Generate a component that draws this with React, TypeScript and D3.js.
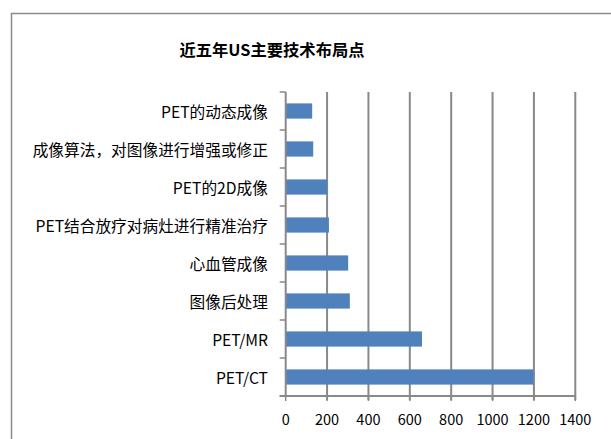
import { useMemo } from "react";
import { scaleBand, scaleLinear } from "d3";

const totalWidth = 611;
const totalHeight = 439;
const plotLeft = 285.7;
const plotRight = 575.3;
const plotTop = 92;
const plotBottom = 396;

const titleText = "近五年US主要技术布局点";
const categories = [
  "PET的动态成像",
  "成像算法，对图像进行增强或修正",
  "PET的2D成像",
  "PET结合放疗对病灶进行精准治疗",
  "心血管成像",
  "图像后处理",
  "PET/MR",
  "PET/CT",
];
const values = [128, 133, 201, 209, 302, 310, 659, 1198];
const xTicks = [0, 200, 400, 600, 800, 1000, 1200, 1400];

const fontFamily = '"Noto Sans CJK SC", "Noto Sans", sans-serif';
const gridColor = "#898989";
const barColor = "#4F81BD";

export default function App() {
  const { xScale, yScale } = useMemo(() => {
    const xScale = scaleLinear().domain([0, 1400]).range([plotLeft, plotRight]);
    const yScale = scaleBand<string>()
      .domain(categories)
      .range([plotTop, plotBottom])
      .paddingInner(0.6)
      .paddingOuter(0.3);
    return { xScale, yScale };
  }, []);

  const step = (plotBottom - plotTop) / categories.length;
  const boundaries = categories.map((_, i) => plotTop + i * step).concat(plotBottom);

  return (
    <svg
      width={totalWidth}
      height={totalHeight}
      viewBox={`0 0 ${totalWidth} ${totalHeight}`}
      style={{ position: "absolute", left: 0, top: 0 }}
    >
      <rect width={totalWidth} height={totalHeight} fill="white" />
      {/* chart frame, cropped on the right and bottom */}
      <path
        d={`M11.5,${totalHeight + 5} L11.5,13.5 L${totalWidth + 5},13.5`}
        fill="none"
        stroke="#8c8c8c"
        strokeWidth={1.5}
      />
      <text
        x={272}
        y={49}
        textAnchor="middle"
        dominantBaseline="central"
        fontFamily={fontFamily}
        fontWeight="bold"
        fontSize={16.3}
        fill="#000"
      >
        {titleText}
      </text>

      {/* vertical gridlines */}
      {xTicks.slice(1).map((t) => (
        <line
          key={`g${t}`}
          x1={xScale(t)}
          x2={xScale(t)}
          y1={plotTop}
          y2={plotBottom + 4}
          stroke={gridColor}
          strokeWidth={2}
        />
      ))}

      {/* bars */}
      {categories.map((c, i) => (
        <rect
          key={c}
          x={xScale(0)}
          y={yScale(c)}
          width={xScale(values[i]) - xScale(0)}
          height={yScale.bandwidth()}
          fill={barColor}
        />
      ))}

      {/* y axis with ticks at category boundaries */}
      <line x1={plotLeft} x2={plotLeft} y1={plotTop} y2={plotBottom} stroke={gridColor} strokeWidth={2} />
      {boundaries.map((b, i) => (
        <line key={`yt${i}`} x1={plotLeft - 6} x2={plotLeft} y1={b} y2={b} stroke={gridColor} strokeWidth={1.5} />
      ))}

      {/* x axis */}
      <line x1={plotLeft - 6} x2={plotRight} y1={plotBottom} y2={plotBottom} stroke={gridColor} strokeWidth={2} />
      {xTicks.map((t) => (
        <line key={`xt${t}`} x1={xScale(t)} x2={xScale(t)} y1={plotBottom} y2={plotBottom + 5} stroke={gridColor} strokeWidth={1.5} />
      ))}
      {xTicks.map((t) => (
        <text
          key={`xl${t}`}
          x={xScale(t)}
          y={418}
          textAnchor="middle"
          dominantBaseline="central"
          fontFamily={fontFamily}
          fontSize={14.5}
          fill="#000"
        >
          {t}
        </text>
      ))}

      {/* category labels */}
      {categories.map((c) => (
        <text
          key={`cl${c}`}
          x={268}
          y={(yScale(c) ?? 0) + yScale.bandwidth() / 2}
          textAnchor="end"
          dominantBaseline="central"
          fontFamily={fontFamily}
          fontSize={15.7}
          fill="#000"
        >
          {c}
        </text>
      ))}
    </svg>
  );
}
